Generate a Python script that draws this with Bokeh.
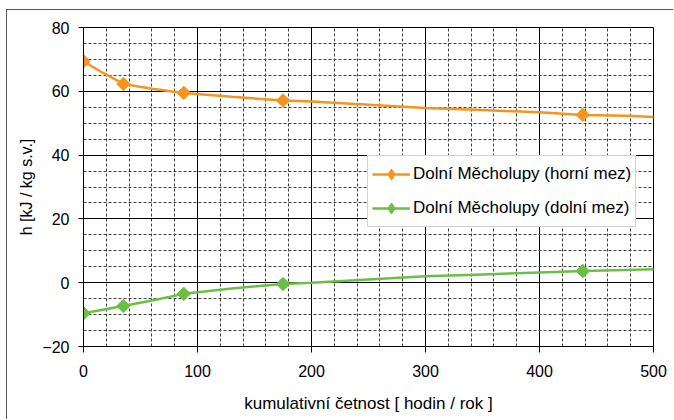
import numpy as np
from bokeh.plotting import figure
from bokeh.models import FixedTicker, Legend, LegendItem, Range1d
from bokeh.embed import file_html
from bokeh.resources import INLINE

# ---- data ----
series_names = ["Dolní Měcholupy (horní mez)", "Dolní Měcholupy (dolní mez)"]

orange_x = [0, 15, 35, 60, 88, 130, 175, 200, 250, 300, 350, 400, 438, 475, 506]
orange_y = [69.4, 66.2, 62.3, 60.8, 59.5, 58.3, 57.1, 56.8, 55.8, 54.8, 54.1, 53.4, 52.6, 52.3, 51.9]

green_x = [0, 35, 60, 88, 130, 175, 200, 250, 300, 350, 400, 438, 475, 507]
green_y = [-9.6, -7.3, -5.6, -3.5, -1.8, -0.4, 0.0, 1.0, 2.0, 2.6, 3.2, 3.65, 4.0, 4.3]

marker_x = [0, 35, 88, 175, 438]
orange_marker_y = [69.4, 62.3, 59.5, 57.1, 52.6]
green_marker_y = [-9.6, -7.3, -3.5, -0.4, 3.65]

x_major = [0, 100, 200, 300, 400, 500]
x_minor = list(range(0, 501, 20))
y_major = [-20, 0, 20, 40, 60, 80]
y_minor = list(range(-20, 81, 5))

ORANGE = "#F7941D"
GREEN = "#6CBF45"
FONT = "Liberation Sans"

p = figure(width=667, height=410, output_backend="svg", toolbar_location=None,
           x_range=Range1d(0, 500), y_range=Range1d(-20, 80),
           min_border_left=76, min_border_right=21, min_border_top=17, min_border_bottom=74,
           margin=(9, 0, 0, 6))
p.styles = {"border-left": "1px solid #595959", "border-top": "1px solid #595959"}
p.outline_line_color = "black"
p.background_fill_color = "white"
p.border_fill_color = "white"

p.xaxis.ticker = FixedTicker(ticks=x_major, minor_ticks=x_minor)
p.yaxis.ticker = FixedTicker(ticks=y_major, minor_ticks=y_minor)

for ax in (p.xaxis[0], p.yaxis[0]):
    ax.axis_line_color = "black"
    ax.major_tick_line_color = "black"
    ax.major_tick_in = 0
    ax.minor_tick_in = 0
    ax.minor_tick_out = 0
    ax.major_label_text_font = FONT
    ax.major_label_text_font_size = "16px"
    ax.major_label_text_color = "black"
    ax.axis_label_text_font = FONT
    ax.axis_label_text_font_style = "normal"
    ax.axis_label_text_color = "black"

p.xaxis.major_tick_out = 6
p.xaxis.major_label_standoff = 12
p.yaxis.major_tick_out = 5
p.yaxis.major_label_standoff = 9

p.xaxis.axis_label = "kumulativní četnost [ hodin / rok ]"
p.xaxis.axis_label_text_font_size = "17px"
p.xaxis.axis_label_standoff = 14

p.yaxis.axis_label = "h [kJ / kg s.v.]"
p.yaxis.axis_label_text_font_size = "16px"
p.yaxis.axis_label_standoff = 4

p.xgrid.grid_line_color = "black"
p.ygrid.grid_line_color = "black"
p.xgrid.minor_grid_line_color = "#404040"
p.ygrid.minor_grid_line_color = "#404040"
p.xgrid.minor_grid_line_dash = "3 2"
p.ygrid.minor_grid_line_dash = "3 2"

l1 = p.line(orange_x, orange_y, line_color=ORANGE, line_width=2.5)
d1 = p.scatter(marker_x, orange_marker_y, marker="diamond", size=8,
               fill_color=ORANGE, line_color=ORANGE)
s1 = p.scatter(marker_x, orange_marker_y, marker="square", angle=np.pi / 4, size=9.5,
               fill_color=ORANGE, line_color=ORANGE)
l2 = p.line(green_x, green_y, line_color=GREEN, line_width=2.5)
d2 = p.scatter(marker_x, green_marker_y, marker="diamond", size=8,
               fill_color=GREEN, line_color=GREEN)
s2 = p.scatter(marker_x, green_marker_y, marker="square", angle=np.pi / 4, size=9.5,
               fill_color=GREEN, line_color=GREEN)

legend = Legend(items=[LegendItem(label=series_names[0], renderers=[l1, d1]),
                       LegendItem(label=series_names[1], renderers=[l2, d2])],
                location=(284, 119), border_line_color="#a6a6a6", border_line_width=1,
                background_fill_color="white", background_fill_alpha=1,
                padding=4, spacing=6, label_height=28, glyph_height=28, glyph_width=38,
                label_standoff=3, margin=0, label_text_font=FONT, label_text_font_size="17px",
                label_text_color="black")
p.add_layout(legend)

open("out.html", "w").write(file_html(p, INLINE))
